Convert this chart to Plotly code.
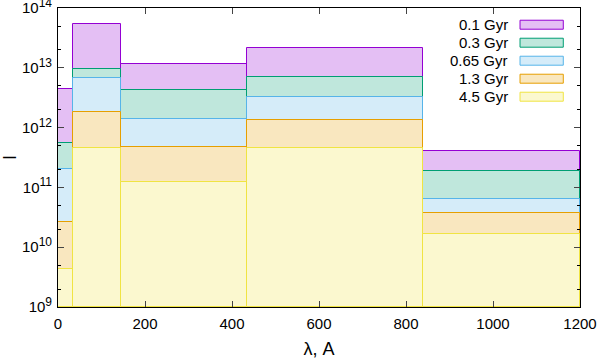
import plotly.graph_objects as go

# bin edges (lambda, A)
edges = [0, 35, 145, 435, 838, 1200]

series_names = ["0.1 Gyr", "0.3 Gyr", "0.65 Gyr", "1.3 Gyr", "4.5 Gyr"]
v_01 = [4.5e12, 5.3e13, 1.14e13, 2.12e13, 4.0e11]
v_03 = [5.5e11, 9.5e12, 4.2e12, 7.0e12, 1.86e11]
v_065 = [2.0e11, 6.8e12, 1.37e12, 3.2e12, 6.3e10]
v_13 = [2.67e10, 1.8e12, 4.74e11, 1.32e12, 3.78e10]
v_45 = [4.3e9, 4.56e11, 1.25e11, 4.6e11, 1.64e10]
series_values = [v_01, v_03, v_065, v_13, v_45]

line_colors = ["#9400d3", "#009e73", "#56b4e9", "#e69f00", "#f0e442"]
fill_colors = ["#e4bff4", "#bfe7dc", "#d5ecf9", "#f9e7bf", "#fbf8cf"]

y_exponents = [9, 10, 11, 12, 13, 14]
y_tick_vals = [10.0 ** e for e in y_exponents]
y_tick_text = ["10<sup><span style='font-size:12px'>%d</span></sup>" % e for e in y_exponents]
x_tick_vals = [0, 200, 400, 600, 800, 1000, 1200]

centers = [(edges[i] + edges[i + 1]) / 2 for i in range(len(edges) - 1)]
widths = [edges[i + 1] - edges[i] for i in range(len(edges) - 1)]

fig = go.Figure()
for name, vals, lc, fc in zip(series_names, series_values, line_colors, fill_colors):
    fig.add_trace(go.Bar(
        x=centers, y=[v - 1e9 for v in vals], base=1e9, width=widths, name=name,
        marker=dict(color=fc, line=dict(color=lc, width=1)),
        showlegend=False, cliponaxis=True, hoverinfo="skip",
    ))

# custom legend (text to the left of the swatch, like the original)
FONT = "Liberation Sans, Arial, sans-serif"
row0 = 0.9441
step = 0.0602
for i, (name, lc, fc) in enumerate(zip(series_names, line_colors, fill_colors)):
    yc = row0 - i * step
    fig.add_annotation(x=0.866, y=yc, xref="paper", yref="paper", text=name,
                       showarrow=False, xanchor="right", yanchor="middle",
                       font=dict(family=FONT, size=15, color="black"))
    fig.add_shape(type="rect", xref="paper", yref="paper",
                  x0=0.8851, x1=0.9680, y0=yc - 0.0150, y1=yc + 0.0150,
                  fillcolor=fc, line=dict(color=lc, width=1))

minor_vals = []
for d in range(9, 14):
    minor_vals += [2 * 10 ** d, 5 * 10 ** d]

fig.update_layout(
    width=600, height=361,
    margin=dict(l=58, r=20, t=8, b=54, autoexpand=False),
    paper_bgcolor="white", plot_bgcolor="white",
    barmode="overlay", bargap=0,
    font=dict(family=FONT, size=15, color="black"),
    xaxis=dict(range=[0, 1200], tickvals=x_tick_vals, ticks="inside", ticklen=6,
               showline=True, linecolor="black", linewidth=1, mirror="allticks",
               showgrid=False, zeroline=False, automargin=False,
               ticklabelstandoff=3, ticklabeloverflow="allow",
               title=dict(text="λ, A", standoff=11)),
    yaxis=dict(type="log", range=[8.99999, 14.00001], tickvals=y_tick_vals, ticktext=y_tick_text,
               ticks="inside", ticklen=6, showline=True, linecolor="black", linewidth=1,
               mirror="allticks", showgrid=False, zeroline=False, automargin=False,
               ticklabelstandoff=2, ticklabeloverflow="allow",
               minor=dict(tickvals=minor_vals, ticks="inside", ticklen=3, tickcolor="black"),
               title=dict(text="I", standoff=14)),
)

fig.write_html("out.html", config={"displayModeBar": False},
               post_script="document.body.style.margin='0px';document.body.style.overflow='hidden';")
